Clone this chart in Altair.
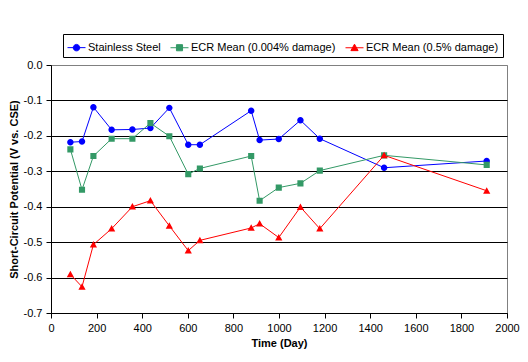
import altair as alt
import pandas as pd

# ---- data ----
days = [85, 136, 186, 266, 357, 436, 519, 602, 653, 878, 915, 999, 1094, 1179, 1461, 1911]
stainless = [-0.218, -0.216, -0.119, -0.183, -0.182, -0.178, -0.121, -0.225, -0.225,
             -0.129, -0.212, -0.209, -0.156, -0.208, -0.290, -0.271]
ecr_low = [-0.238, -0.352, -0.257, -0.208, -0.208, -0.164, -0.201, -0.308, -0.292,
           -0.257, -0.383, -0.346, -0.334, -0.298, -0.255, -0.282]
ecr_high = [-0.591, -0.626, -0.507, -0.462, -0.400, -0.383, -0.454, -0.524, -0.495,
            -0.460, -0.448, -0.487, -0.401, -0.462, -0.255, -0.355]

series_names = ["Stainless Steel", "ECR Mean (0.004% damage)", "ECR Mean (0.5% damage)"]
series_colors = ["#0000FF", "#339966", "#FF0000"]
x_ticks = [0, 200, 400, 600, 800, 1000, 1200, 1400, 1600, 1800, 2000]
y_ticks = [0.0, -0.1, -0.2, -0.3, -0.4, -0.5, -0.6, -0.7]

# marker shapes as unit paths: a horizontal stroke (only visible where a stroke is
# drawn, i.e. in the legend) plus the filled marker
marker_paths = [
    "M-1,0H1M0.36,0A0.36,0.36,0,1,1,-0.36,0A0.36,0.36,0,1,1,0.36,0Z",
    "M-1,0H1M-0.34,-0.34H0.34V0.34H-0.34Z",
    "M-1,0H1M0,-0.4L0.4,0.32H-0.4Z",
]

rows = []
for name, vals in zip(series_names, [stainless, ecr_low, ecr_high]):
    for d, v in zip(days, vals):
        rows.append({"series": name, "day": d, "value": v})
df = pd.DataFrame(rows)

FONT = "Liberation Sans"

x_enc = alt.X(
    "day:Q",
    scale=alt.Scale(domain=[0, 2000], nice=False),
    axis=alt.Axis(values=x_ticks, format="d", title="Time (Day)", grid=False,
                  tickSize=5, labelPadding=4, titlePadding=4,
                  labelFlush=False, labelOverlap=False),
)
y_enc = alt.Y(
    "value:Q",
    scale=alt.Scale(domain=[-0.7, 0], nice=False, zero=False),
    axis=alt.Axis(values=y_ticks,
                  labelExpr="(datum.value < -0.00001 ? '-' : '') + format(abs(datum.value), '.1f')",
                  title="Short-Circuit Potential (V vs. CSE)", grid=True,
                  gridColor={"condition": {"test": "abs(datum.value) < 0.00001", "value": "#808080"},
                             "value": "black"},
                  gridWidth=1, tickSize=5, labelPadding=4, titlePadding=4, labelOverlap=False),
)


def color_scale():
    return alt.Scale(domain=series_names, range=series_colors)


def shape_scale():
    return alt.Scale(domain=series_names, range=marker_paths)


legend = alt.Legend(orient="none", legendX=12, legendY=-31, direction="horizontal",
                    columns=3, title=None, symbolSize=324, symbolStrokeWidth=1,
                    symbolOpacity=1, labelFont=FONT, labelFontSize=11, labelOffset=2,
                    labelColor="black", columnPadding=7, padding=4,
                    strokeColor="black")

lines = alt.Chart(df).mark_line(strokeWidth=1).encode(
    x=x_enc,
    y=y_enc,
    color=alt.Color("series:N", scale=color_scale(), legend=None),
    detail="series:N",
)

points = alt.Chart(df).mark_point(filled=True, size=324, opacity=1, strokeWidth=0).encode(
    x=x_enc,
    y=y_enc,
    color=alt.Color("series:N", scale=color_scale(), legend=None),
    shape=alt.Shape("series:N", scale=shape_scale(), legend=None),
)

# invisible layer that only provides the legend (line + marker symbols)
legend_layer = alt.Chart(df).mark_point(filled=True, size=324, opacity=0, strokeWidth=1).encode(
    x=x_enc,
    y=y_enc,
    color=alt.Color("series:N", scale=color_scale(), legend=legend),
    stroke=alt.Stroke("series:N", scale=color_scale(), legend=legend),
    shape=alt.Shape("series:N", scale=shape_scale(), legend=legend),
)

chart = (
    alt.layer(lines, points, legend_layer)
    .resolve_scale(color="independent", shape="independent", stroke="independent")
    .properties(width=456, height=248,
                autosize=alt.AutoSizeParams(type="none"),
                padding={"left": 43, "top": 57, "right": 13, "bottom": 40})
    .configure(font=FONT)
    .configure_view(stroke="#808080", strokeWidth=1)
    .configure_axis(labelFont=FONT, titleFont=FONT, labelFontSize=11, titleFontSize=11,
                    titleFontWeight="bold", labelColor="black", titleColor="black",
                    domainColor="black", tickColor="black", domainWidth=1, tickWidth=1)
)

chart.save("out.html", embed_options={"renderer": "svg", "actions": False})
